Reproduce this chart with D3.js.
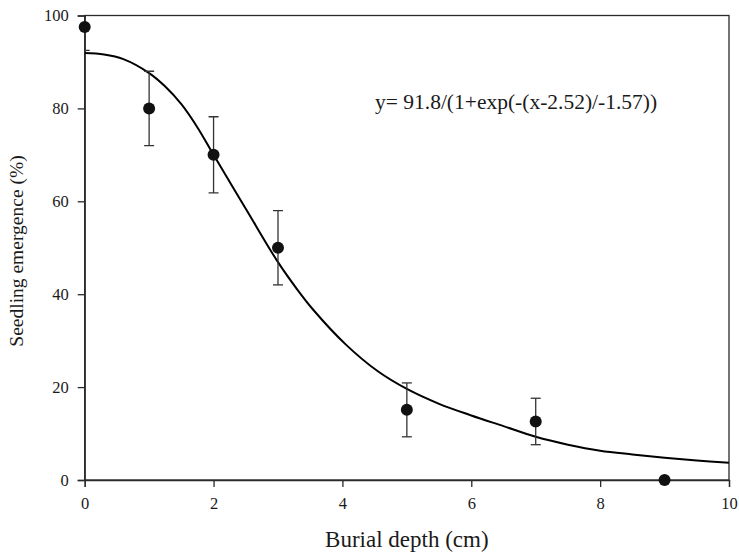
<!DOCTYPE html>
<html>
<head>
<meta charset="utf-8">
<script src="https://cdn.jsdelivr.net/npm/d3@7"></script>
<style>
  html, body { margin: 0; padding: 0; background: #fff; }
  svg { display: block; }
  text { font-family: "Liberation Serif", "Times New Roman", serif; fill: #1a1a1a; }
</style>
</head>
<body>
<svg id="chart" width="739" height="556"></svg>
<script>
// Observed emergence by burial depth (mean ± error)
const depths    = [0, 1, 2, 3, 5, 7, 9];
const emergence = [97.5, 80.0, 70.0, 50.0, 15.1, 12.6, 0];
const errors    = [5.0, 8.0, 8.2, 8.0, 5.8, 5.0, 0];

// Fitted response curve, sampled along depth
const fitDepth = [0, 0.3, 0.6, 1.0, 1.25, 1.5, 1.75, 2.0, 2.5, 3.0, 3.3, 3.55, 4.05, 4.55, 5.0, 5.5, 6.0, 6.5, 7.0, 7.5, 8.0, 8.5, 9.0, 9.5, 10.0];
const fitValue = [91.9, 91.6, 90.6, 87.6, 84.7, 80.9, 75.9, 70.0, 58.4, 46.9, 41.0, 36.6, 29.2, 23.4, 19.6, 16.4, 13.9, 11.6, 9.3, 7.6, 6.3, 5.5, 4.8, 4.2, 3.7];

const xTicks = [0, 2, 4, 6, 8, 10];
const yTicks = [0, 20, 40, 60, 80, 100];

const equationLabel = "y= 91.8/(1+exp(-(x-2.52)/-1.57))";
const xTitle = "Burial depth (cm)";
const yTitle = "Seedling emergence (%)";

const svg = d3.select("#chart");
const margin = { left: 84.7, right: 10, top: 15.5, bottom: 76 };
const W = 739, H = 556;

const x = d3.scaleLinear().domain([0, 10]).range([margin.left, W - margin.right]);
const y = d3.scaleLinear().domain([0, 100]).range([H - margin.bottom, margin.top]);

const ink = "#2a2a2a";
const serif = '"Liberation Serif", "Times New Roman", serif';

// clip region for the plotting area
svg.append("defs").append("clipPath").attr("id", "plot-clip")
  .append("rect")
  .attr("x", x(0)).attr("y", y(100))
  .attr("width", x(10) - x(0)).attr("height", y(0) - y(100));

// frame
svg.append("rect")
  .attr("x", x(0)).attr("y", y(100))
  .attr("width", x(10) - x(0)).attr("height", y(0) - y(100))
  .attr("fill", "none").attr("stroke", ink).attr("stroke-width", 1.3);

// axes
const xAxis = svg.append("g")
  .attr("transform", `translate(0,${y(0)})`)
  .call(d3.axisBottom(x).tickValues(xTicks).tickSize(7).tickPadding(10).tickFormat(d3.format("d")));
const yAxis = svg.append("g")
  .attr("transform", `translate(${x(0)},0)`)
  .call(d3.axisLeft(y).tickValues(yTicks).tickSize(7).tickPadding(9).tickFormat(d3.format("d")));

[xAxis, yAxis].forEach(g => {
  g.attr("font-family", serif);
  g.select(".domain").attr("stroke", ink).attr("stroke-width", 1.3);
  g.selectAll(".tick line").attr("stroke", ink).attr("stroke-width", 1.3);
  g.selectAll(".tick text")
    .attr("fill", "#1a1a1a")
    .style("font-family", serif)
    .style("font-size", "16.5px");
});

const plot = svg.append("g").attr("clip-path", "url(#plot-clip)");

// fitted curve
const line = d3.line()
  .x((d, i) => x(fitDepth[i]))
  .y((d, i) => y(fitValue[i]))
  .curve(d3.curveCatmullRom.alpha(0.5));
plot.append("path")
  .datum(fitDepth)
  .attr("d", line)
  .attr("fill", "none")
  .attr("stroke", "#000")
  .attr("stroke-width", 2);

// error bars
const obs = depths.map((d, i) => ({ x: d, v: emergence[i], e: errors[i] }));
const capW = 5;
const bars = plot.append("g").selectAll("g")
  .data(obs.filter(d => d.e > 0))
  .join("g")
  .attr("stroke", "#333").attr("stroke-width", 1.3);
bars.append("line")
  .attr("x1", d => x(d.x)).attr("x2", d => x(d.x))
  .attr("y1", d => y(d.v + d.e)).attr("y2", d => y(d.v - d.e));
bars.append("line")
  .attr("x1", d => x(d.x) - capW).attr("x2", d => x(d.x) + capW)
  .attr("y1", d => y(d.v + d.e)).attr("y2", d => y(d.v + d.e));
bars.append("line")
  .attr("x1", d => x(d.x) - capW).attr("x2", d => x(d.x) + capW)
  .attr("y1", d => y(d.v - d.e)).attr("y2", d => y(d.v - d.e));

// observed means
svg.append("g").selectAll("circle")
  .data(obs)
  .join("circle")
  .attr("cx", d => x(d.x))
  .attr("cy", d => y(d.v))
  .attr("r", 6)
  .attr("fill", "#111");

// equation
svg.append("text")
  .attr("x", 375).attr("y", 109)
  .style("font-family", serif)
  .style("font-size", "21.5px")
  .text(equationLabel);

// axis titles
svg.append("text")
  .attr("x", (x(0) + x(10)) / 2).attr("y", 547)
  .attr("text-anchor", "middle")
  .style("font-family", serif)
  .style("font-size", "23px")
  .text(xTitle);
svg.append("text")
  .attr("transform", `translate(23,251) rotate(-90)`)
  .attr("text-anchor", "middle")
  .style("font-family", serif)
  .style("font-size", "19.5px")
  .text(yTitle);
</script>
</body>
</html>
